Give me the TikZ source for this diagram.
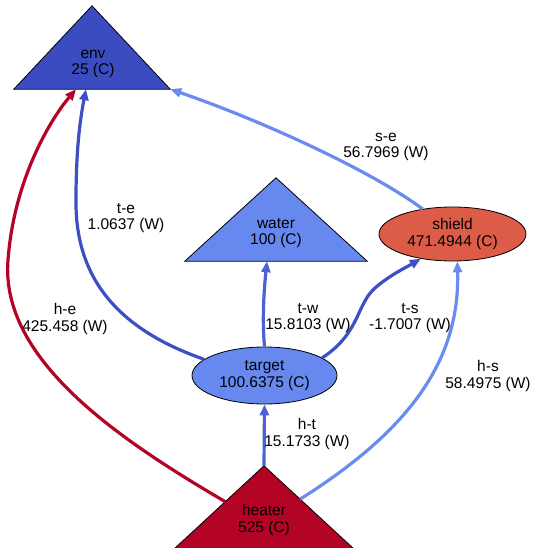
\documentclass[tikz,border=0pt]{standalone}
\usepackage{fontspec}
\setmainfont{Liberation Sans}
\usetikzlibrary{positioning,calc,shapes.geometric,arrows.meta}

\definecolor{envcol}{HTML}{3B4CC0}
\definecolor{watercol}{HTML}{6788EE}
\definecolor{shieldcol}{HTML}{DD5C48}
\definecolor{heatercol}{HTML}{B40426}
\definecolor{flowhot}{HTML}{B40426}
\definecolor{flowlow}{HTML}{3D50C3}
\definecolor{flowmid}{HTML}{4A62D4}
\definecolor{flowhigh}{HTML}{6A8CF0}

\begin{document}
\begin{tikzpicture}[x=1pt,y=-1pt]
    \tikzstyle{every node}=[inner sep=0,align=center,font=\fontsize{15.5}{16.8}\selectfont]
    \tikzstyle{tribox}=[minimum height=83]
    \tikzstyle{oval}=[ellipse,draw=black,line width=0.8]
    \tikzstyle{flow}=[line width=3.2,-{Triangle[length=11pt,width=9pt]}]
    {
        \useasboundingbox (0,0) rectangle (535,548);

        % triangles: env, water, heater
        \node[tribox,minimum width=156] (env) at (92,47.5) {};
        \node[tribox,minimum width=182] (water) at (276,219.5) {};
        \node[tribox,minimum width=180] (heater) at (264,507.5) {};
        \foreach \n/\c in {env/envcol,water/watercol,heater/heatercol}
            \filldraw[fill=\c,draw=black,line width=0.8] (\n.north) -- (\n.south west) -- (\n.south east) -- cycle;

        \node (envtxt) at (93,64) {env\\25 (C)};
        \node (watertxt) at (276,233) {water\\100 (C)};
        \node (heatertxt) at (264,520) {heater\\525 (C)};

        % ellipses
        \node[oval,fill=shieldcol,minimum width=147,minimum height=54] (shield) at (452.5,234) {shield\\471.4944 (C)};
        \node[oval,fill=watercol,minimum width=145,minimum height=57] (target) at (264.5,375.5) {target\\100.6375 (C)};

        % flows
        \draw[flow,flowhot] ($(heater.north)!.43!(heater.south west)$)
            .. controls (120,440) and (0,360) .. (8,260)
            .. controls (14,180) and (50,120) .. ($(env.south)+(-16,0)$);
        \draw[flow,flowlow] (target.165)
            .. controls (120,330) and (75,280) .. (76,200)
            .. controls (76,150) and (80,120) .. ($(env.south)+(-6,0)$);
        \draw[flow,flowhigh] (shield.140) .. controls (370,170) and (260,120) .. (env.south east);
        \draw[flow,flowmid] (target.north) .. controls (262,320) and (264,290) .. ($(water.south)+(-9,0)$);
        \draw[flow,flowlow] (target.17)
            .. controls (360,333) and (356,305) .. (375,288)
            .. controls (390,275) and (405,268) .. (shield.218);
        \draw[flow,flowmid] (heater.north) -- (target.south);
        \draw[flow,flowhigh] ($(heater.north)!.4!(heater.south east)$) .. controls (410,430) and (460,360) .. (shield.-80);

        \node (lhe) at (65,319) {h-e\\425.458 (W)};
        \node (lte) at (126,218) {t-e\\1.0637 (W)};
        \node (lse) at (386,147) {s-e\\56.7969 (W)};
        \node (ltw) at (308,318) {t-w\\15.8103 (W)};
        \node (lts) at (410,318) {t-s\\-1.7007 (W)};
        \node (lht) at (307,434) {h-t\\15.1733 (W)};
        \node (lhs) at (488,376) {h-s\\58.4975 (W)};
    }
\end{tikzpicture}
\end{document}
